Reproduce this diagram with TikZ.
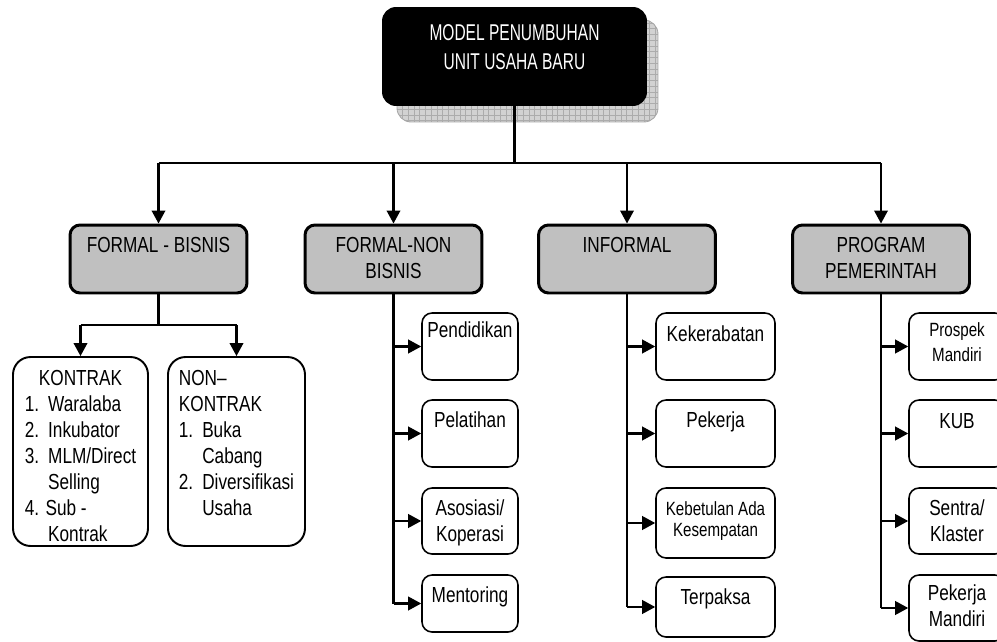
\documentclass[tikz,border=0pt]{standalone}
\usepackage{fontspec}
\setmainfont{Liberation Sans}[FakeStretch=0.79]
\newfontfamily\titlefont{Liberation Sans}[FakeStretch=0.68]
\usetikzlibrary{arrows.meta}
\definecolor{silver}{HTML}{C0C0C0}
\newcommand{\boxtext}[4][0.24cm]{\parbox[t][#3][t]{#2}{\centering\vspace*{#1}#4\par}}
\begin{document}
\begin{tikzpicture}[x=0.02cm,y=-0.02cm,
  every node/.style={inner sep=0pt,font=\fontsize{12.4}{14.8}\selectfont},
  topbox/.style={fill=black,rounded corners=0.28cm,text=white,font=\titlefont\fontsize{13}{16.4}\selectfont},
  levelbox/.style={draw,line width=1.7pt,fill=silver,rounded corners=0.2cm},
  subbox/.style={draw,line width=0.9pt,fill=white,rounded corners=0.2cm},
  listbox/.style={draw,line width=1.1pt,fill=white,rounded corners=0.35cm},
  smallfont/.style={font=\fontsize{10.9}{11.9}\selectfont},
  conn/.style={line width=1.2pt},
  arr/.style={line width=1.2pt,-{Triangle[length=0.26cm,width=0.27cm]}}]
\useasboundingbox (0,0) rectangle (997,642);
\clip (0,0) rectangle (997,642);
% shadow of the title box
\begin{scope}
\clip[rounded corners=0.28cm] (397,20) rectangle (658,122);
\fill[gray!35] (397,20) rectangle (658,122);
\draw[gray!65,line width=0.3pt,step=0.115cm] (397,20) grid (658,122);
\end{scope}
\draw[gray!70,line width=0.5pt,rounded corners=0.28cm] (397,20) rectangle (658,122);
\node[topbox] (model) at (514.5,56.5) {\boxtext[0.36cm]{5.3cm}{1.98cm}{MODEL PENUMBUHAN\\UNIT USAHA BARU}};
% level 2
\node[levelbox] (fb) at (158.5,259) {\boxtext{3.54cm}{1.36cm}{FORMAL - BISNIS}};
\node[levelbox] (fnb) at (393.5,259) {\boxtext{3.54cm}{1.36cm}{FORMAL-NON\\BISNIS}};
\node[levelbox] (inf) at (627,259) {\boxtext{3.54cm}{1.36cm}{INFORMAL}};
\node[levelbox] (prog) at (881,259) {\boxtext{3.54cm}{1.36cm}{PROGRAM\\PEMERINTAH}};
\coordinate (bus) at (514.5,163);
\draw[conn] (model.south) -- (bus);
\draw[conn] (fb.north |- bus) -- (prog.north |- bus);
\foreach \n in {fb,fnb,inf,prog}
  \draw[arr] (\n.north |- bus) -- (\n.north);
% formal - bisnis
\node[listbox] (kon) at (80.5,451.5) {\boxtext[0.21cm]{2.7cm}{3.78cm}{%
  \begin{tabular}{@{}l@{\hspace{0.18cm}}l@{}}
  \multicolumn{2}{@{}c@{}}{KONTRAK}\\
  1. & Waralaba\\
  2. & Inkubator\\
  3. & MLM/Direct\\
     & Selling\\
  \multicolumn{2}{@{}l@{}}{4. Sub -}\\
     & Kontrak
  \end{tabular}}};
\node[listbox] (nkon) at (236.5,451.5) {\boxtext[0.21cm]{2.74cm}{3.78cm}{%
  \begin{tabular}{@{}l@{\hspace{0.18cm}}l@{}}
  \multicolumn{2}{@{}l@{}}{NON–}\\
  \multicolumn{2}{@{}l@{}}{KONTRAK}\\
  1. & Buka\\
     & Cabang\\
  2. & Diversifikasi\\
     & Usaha
  \end{tabular}}};
\coordinate (fbbus) at (158.5,325);
\draw[conn] (fb.south) -- (fbbus);
\draw[conn] (kon.north |- fbbus) -- (nkon.north |- fbbus);
\foreach \n in {kon,nkon}
  \draw[arr] (\n.north |- fbbus) -- (\n.north);
% formal-non bisnis
\node[subbox] (pend) at (470,346.5) {\boxtext[0.18cm]{1.92cm}{1.34cm}{Pendidikan}};
\node[subbox] (pel) at (470,433.5) {\boxtext{1.92cm}{1.34cm}{Pelatihan}};
\node[subbox] (aso) at (470,521) {\boxtext{1.92cm}{1.32cm}{Asosiasi/\\Koperasi}};
\node[subbox] (ment) at (470,603.5) {\boxtext{1.92cm}{1.14cm}{Mentoring}};
\draw[conn] (fnb.south) -- (fnb.south |- ment.west);
\foreach \n in {pend,pel,aso,ment}
  \draw[arr] (fnb.south |- \n.west) -- (\n.west);
% informal
\node[subbox] (kek) at (715.5,346.5) {\boxtext[0.26cm]{2.38cm}{1.34cm}{Kekerabatan}};
\node[subbox] (pek) at (715.5,433.5) {\boxtext{2.38cm}{1.34cm}{Pekerja}};
\node[subbox,smallfont] (keb) at (715.5,523) {\boxtext[0.27cm]{2.38cm}{1.4cm}{Kebetulan Ada\\Kesempatan}};
\node[subbox] (ter) at (715.5,607) {\boxtext{2.38cm}{1.2cm}{Terpaksa}};
\draw[conn] (inf.south) -- (inf.south |- ter.west);
\foreach \n in {kek,pek,keb,ter}
  \draw[arr] (inf.south |- \n.west) -- (\n.west);
% program pemerintah
\node[subbox,font=\fontsize{10.9}{14}\selectfont] (pros) at (957,346.5) {\boxtext[0.2cm]{1.92cm}{1.34cm}{Prospek\\Mandiri}};
\node[subbox] (kub) at (957,433.5) {\boxtext[0.28cm]{1.92cm}{1.34cm}{KUB}};
\node[subbox] (sen) at (957,521) {\boxtext{1.92cm}{1.32cm}{Sentra/\\Klaster}};
\node[subbox] (pm) at (957,608) {\boxtext[0.2cm]{1.92cm}{1.32cm}{Pekerja\\Mandiri}};
\draw[conn] (prog.south) -- (prog.south |- pm.west);
\foreach \n in {pros,kub,sen,pm}
  \draw[arr] (prog.south |- \n.west) -- (\n.west);
\end{tikzpicture}
\end{document}
